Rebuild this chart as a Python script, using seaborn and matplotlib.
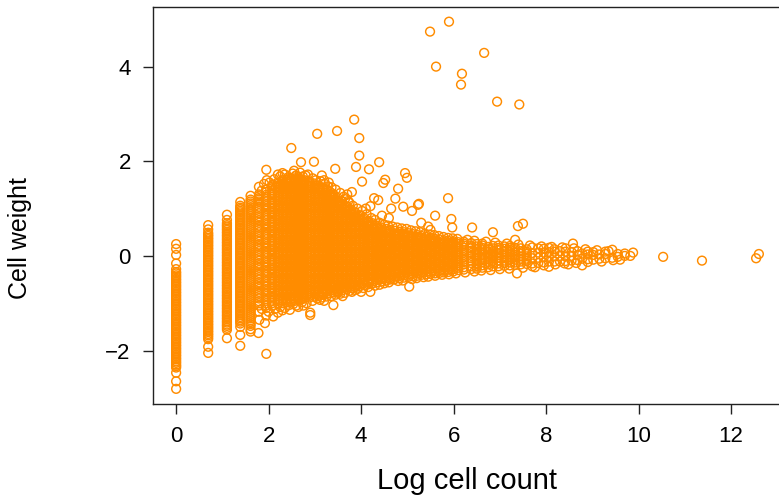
import numpy as np
import pandas as pd
import matplotlib
matplotlib.use("Agg")
import matplotlib.pyplot as plt
import seaborn as sns

# ---------------- data ----------------
# discrete columns at low counts: x = log(count)
col_counts = [1, 2, 3, 4, 5]
w_count1 = [0.25, 0.15, 0.02, -0.16, -0.28, -0.34, -0.41, -0.48, -0.55, -0.62, -0.69, -0.76,
            -0.83, -0.9, -0.97, -1.04, -1.11, -1.18, -1.25, -1.32, -1.39, -1.46, -1.53,
            -1.6, -1.67, -1.74, -1.81, -1.88, -1.95, -2.02, -2.09, -2.16, -2.23, -2.3,
            -2.36, -2.47, -2.65, -2.81,
            -0.37, -0.44, -0.51, -0.58, -0.65, -0.72, -0.79, -0.86, -0.93, -1.0, -1.07,
            -1.14, -1.21, -1.28, -1.35, -1.42, -1.49, -1.56, -1.63, -1.7, -1.77, -1.84,
            -1.91, -1.98, -2.05, -2.12, -2.19, -2.26, -2.33]
w_count2 = [0.65, 0.56, 0.49, 0.42, 0.35, 0.28, 0.21, 0.14, 0.07, 0.0, -0.07, -0.14, -0.21,
            -0.28, -0.35, -0.42, -0.49, -0.56, -0.63, -0.7, -0.77, -0.84, -0.91, -0.98,
            -1.05, -1.12, -1.19, -1.26, -1.33, -1.4, -1.47, -1.54, -1.61, -1.68, -1.76,
            -1.92, -2.05,
            0.45, 0.38, 0.31, 0.24, 0.17, 0.1, 0.03, -0.04, -0.11, -0.18, -0.25, -0.32,
            -0.39, -0.46, -0.53, -0.6, -0.67, -0.74, -0.81, -0.88, -0.95, -1.02, -1.09,
            -1.16, -1.23, -1.3, -1.37, -1.44, -1.51, -1.58, -1.65, -1.72]
w_count3 = [0.87, 0.76, 0.69, 0.62, 0.55, 0.48, 0.41, 0.34, 0.27, 0.2, 0.13, 0.06, -0.01,
            -0.08, -0.15, -0.22, -0.29, -0.36, -0.43, -0.5, -0.57, -0.64, -0.71, -0.78,
            -0.85, -0.92, -0.99, -1.06, -1.13, -1.2, -1.27, -1.34, -1.41, -1.48, -1.56,
            -1.74,
            0.65, 0.58, 0.51, 0.44, 0.37, 0.3, 0.23, 0.16, 0.09, 0.02, -0.05, -0.12, -0.19,
            -0.26, -0.33, -0.4, -0.47, -0.54, -0.61, -0.68, -0.75, -0.82, -0.89, -0.96,
            -1.03, -1.1, -1.17, -1.24, -1.31, -1.38, -1.45, -1.52]
w_count4 = [1.14, 1.06, 0.99, 0.92, 0.85, 0.78, 0.71, 0.64, 0.57, 0.5, 0.43, 0.36, 0.29,
            0.22, 0.15, 0.08, 0.01, -0.06, -0.13, -0.2, -0.27, -0.34, -0.41, -0.48, -0.55,
            -0.62, -0.69, -0.76, -0.83, -0.9, -0.97, -1.04, -1.11, -1.18, -1.25, -1.32,
            -1.39, -1.5, -1.67, -1.9,
            1.02, 0.95, 0.88, 0.81, 0.74, 0.67, 0.6, 0.53, 0.46, 0.39, 0.32, 0.25, 0.18,
            0.11, 0.04, -0.03, -0.1, -0.17, -0.24, -0.31, -0.38, -0.45, -0.52, -0.59,
            -0.66, -0.73, -0.8, -0.87, -0.94, -1.01, -1.08, -1.15, -1.22, -1.29, -1.36,
            -1.43]
w_count5 = [1.27, 1.19, 1.11, 1.03, 0.96, 0.88, 0.8, 0.72, 0.64, 0.56, 0.48, 0.4, 0.32,
            0.24, 0.16, 0.08, 0.0, -0.08, -0.16, -0.24, -0.32, -0.4, -0.48, -0.56, -0.64,
            -0.72, -0.8, -0.88, -0.96, -1.04, -1.12, -1.2, -1.28, -1.36, -1.44, -1.55,
            -1.6,
            1.15, 1.07, 0.99, 0.92, 0.84, 0.76, 0.68, 0.6, 0.52, 0.44, 0.36, 0.28, 0.2,
            0.12, 0.04, -0.04, -0.12, -0.2, -0.28, -0.36, -0.44, -0.52, -0.6, -0.68,
            -0.76, -0.84, -0.92, -1.0, -1.08, -1.16, -1.24, -1.32, -1.4, -1.48]

# dense cloud: log cell count of each column and the weights seen in it
blob_x = [1.792, 1.946, 2.079, 2.197, 2.303, 2.398, 2.485, 2.565, 2.639, 2.708, 2.773,
          2.890, 2.996, 3.091, 3.178, 3.258, 3.332, 3.401, 3.497, 3.584, 3.689, 3.784,
          3.871, 3.970, 4.060, 4.159, 4.248, 4.344, 4.443, 4.543, 4.625, 4.727, 4.828,
          4.927, 5.024, 5.118, 5.215, 5.308, 5.407, 5.501, 5.598, 5.694, 5.790, 5.886,
          5.991]
blob_y = [
    [-1.18, -1.05, -0.96, -0.85, -0.76, -0.65, -0.56, -0.45, -0.36, -0.25, -0.16, -0.05, 0.04, 0.15, 0.24, 0.35, 0.44, 0.55, 0.64, 0.75, 0.84, 0.95, 1.04, 1.15, 1.22, 1.30],
    [-1.26, -1.1, -1.0, -0.91, -0.8, -0.71, -0.6, -0.51, -0.4, -0.31, -0.2, -0.11, 0.0, 0.09, 0.2, 0.29, 0.4, 0.49, 0.6, 0.69, 0.8, 0.89, 1.0, 1.09, 1.2, 1.29, 1.4],
    [-1.05, -0.95, -0.86, -0.75, -0.66, -0.55, -0.46, -0.35, -0.26, -0.15, -0.06, 0.05, 0.14, 0.25, 0.34, 0.45, 0.54, 0.65, 0.74, 0.85, 0.94, 1.05, 1.14, 1.25, 1.34, 1.43, 1.5],
    [-1.0, -0.91, -0.8, -0.71, -0.6, -0.51, -0.4, -0.31, -0.2, -0.11, 0.0, 0.09, 0.2, 0.29, 0.4, 0.49, 0.6, 0.69, 0.8, 0.89, 1.0, 1.09, 1.2, 1.29, 1.4, 1.48, 1.55],
    [-1.0, -0.95, -0.85, -0.76, -0.65, -0.56, -0.45, -0.36, -0.25, -0.16, -0.05, 0.04, 0.15, 0.24, 0.35, 0.44, 0.55, 0.64, 0.75, 0.84, 0.95, 1.04, 1.15, 1.24, 1.35, 1.44, 1.53, 1.6],
    [-0.98, -0.9, -0.8, -0.71, -0.6, -0.51, -0.4, -0.31, -0.2, -0.11, 0.0, 0.09, 0.2, 0.29, 0.4, 0.49, 0.6, 0.69, 0.8, 0.89, 1.0, 1.09, 1.2, 1.29, 1.4, 1.49, 1.57, 1.62],
    [-0.97, -0.85, -0.76, -0.65, -0.56, -0.45, -0.36, -0.25, -0.16, -0.05, 0.04, 0.15, 0.24, 0.35, 0.44, 0.55, 0.64, 0.75, 0.84, 0.95, 1.04, 1.15, 1.24, 1.35, 1.44, 1.55, 1.63],
    [-0.95, -0.9, -0.8, -0.71, -0.6, -0.51, -0.4, -0.31, -0.2, -0.11, 0.0, 0.09, 0.2, 0.29, 0.4, 0.49, 0.6, 0.69, 0.8, 0.89, 1.0, 1.09, 1.2, 1.29, 1.4, 1.49, 1.58, 1.64],
    [-0.93, -0.85, -0.76, -0.65, -0.56, -0.45, -0.36, -0.25, -0.16, -0.05, 0.04, 0.15, 0.24, 0.35, 0.44, 0.55, 0.64, 0.75, 0.84, 0.95, 1.04, 1.15, 1.24, 1.35, 1.44, 1.55, 1.63],
    [-0.92, -0.8, -0.71, -0.6, -0.51, -0.4, -0.31, -0.2, -0.11, 0.0, 0.09, 0.2, 0.29, 0.4, 0.49, 0.6, 0.69, 0.8, 0.89, 1.0, 1.09, 1.2, 1.29, 1.4, 1.49, 1.57, 1.62],
    [-0.9, -0.85, -0.76, -0.65, -0.56, -0.45, -0.36, -0.25, -0.16, -0.05, 0.04, 0.15, 0.24, 0.35, 0.44, 0.55, 0.64, 0.75, 0.84, 0.95, 1.04, 1.15, 1.24, 1.35, 1.44, 1.53, 1.6],
    [-0.88, -0.8, -0.71, -0.6, -0.51, -0.4, -0.31, -0.2, -0.11, 0.0, 0.09, 0.2, 0.29, 0.4, 0.49, 0.6, 0.69, 0.8, 0.89, 1.0, 1.09, 1.2, 1.29, 1.4, 1.49, 1.57],
    [-0.86, -0.76, -0.65, -0.56, -0.45, -0.36, -0.25, -0.16, -0.05, 0.04, 0.15, 0.24, 0.35, 0.44, 0.55, 0.64, 0.75, 0.84, 0.95, 1.04, 1.15, 1.24, 1.35, 1.44, 1.53],
    [-0.84, -0.8, -0.71, -0.6, -0.51, -0.4, -0.31, -0.2, -0.11, 0.0, 0.09, 0.2, 0.29, 0.4, 0.49, 0.6, 0.69, 0.8, 0.89, 1.0, 1.09, 1.2, 1.29, 1.4, 1.48],
    [-0.82, -0.76, -0.65, -0.56, -0.45, -0.36, -0.25, -0.16, -0.05, 0.04, 0.15, 0.24, 0.35, 0.44, 0.55, 0.64, 0.75, 0.84, 0.95, 1.04, 1.15, 1.24, 1.35, 1.44],
    [-0.8, -0.71, -0.6, -0.51, -0.4, -0.31, -0.2, -0.11, 0.0, 0.09, 0.2, 0.29, 0.4, 0.49, 0.6, 0.69, 0.8, 0.89, 1.0, 1.09, 1.2, 1.29, 1.4],
    [-0.79, -0.7, -0.6, -0.5, -0.41, -0.3, -0.21, -0.1, -0.01, 0.1, 0.19, 0.3, 0.39, 0.5, 0.59, 0.7, 0.79, 0.9, 0.99, 1.1, 1.19, 1.28, 1.35],
    [-0.77, -0.66, -0.56, -0.45, -0.36, -0.25, -0.16, -0.05, 0.04, 0.15, 0.24, 0.35, 0.44, 0.55, 0.64, 0.75, 0.84, 0.95, 1.04, 1.15, 1.23, 1.3],
    [-0.75, -0.69, -0.6, -0.51, -0.4, -0.31, -0.2, -0.11, 0.0, 0.09, 0.2, 0.29, 0.4, 0.49, 0.6, 0.69, 0.8, 0.89, 1.0, 1.09, 1.17, 1.22],
    [-0.73, -0.65, -0.56, -0.45, -0.36, -0.25, -0.16, -0.05, 0.04, 0.15, 0.24, 0.35, 0.44, 0.55, 0.64, 0.75, 0.84, 0.95, 1.04, 1.1, 1.15],
    [-0.7, -0.6, -0.51, -0.4, -0.31, -0.2, -0.11, 0.0, 0.09, 0.2, 0.29, 0.4, 0.49, 0.6, 0.69, 0.8, 0.89, 0.98, 1.05],
    [-0.68, -0.6, -0.5, -0.41, -0.3, -0.21, -0.1, -0.01, 0.1, 0.19, 0.3, 0.39, 0.5, 0.59, 0.7, 0.79, 0.88, 0.98],
    [-0.66, -0.56, -0.45, -0.36, -0.25, -0.16, -0.05, 0.04, 0.15, 0.24, 0.35, 0.44, 0.55, 0.64, 0.75, 0.84, 0.92],
    [-0.64, -0.55, -0.46, -0.35, -0.26, -0.15, -0.06, 0.05, 0.14, 0.25, 0.34, 0.45, 0.54, 0.65, 0.74, 0.82, 0.86],
    [-0.62, -0.51, -0.4, -0.31, -0.2, -0.11, 0.0, 0.09, 0.2, 0.29, 0.4, 0.49, 0.6, 0.69, 0.76, 0.8],
    [-0.6, -0.53, -0.43, -0.34, -0.23, -0.14, -0.03, 0.06, 0.17, 0.26, 0.37, 0.46, 0.57, 0.66, 0.74],
    [-0.58, -0.49, -0.38, -0.29, -0.18, -0.09, 0.02, 0.11, 0.22, 0.31, 0.42, 0.51, 0.6, 0.69],
    [-0.56, -0.46, -0.37, -0.26, -0.17, -0.06, 0.03, 0.14, 0.23, 0.34, 0.43, 0.52, 0.6, 0.64],
    [-0.54, -0.45, -0.34, -0.25, -0.14, -0.05, 0.06, 0.15, 0.26, 0.35, 0.44, 0.52, 0.6],
    [-0.52, -0.42, -0.33, -0.22, -0.13, -0.02, 0.07, 0.18, 0.27, 0.38, 0.47, 0.57],
    [-0.5, -0.4, -0.3, -0.21, -0.1, -0.01, 0.1, 0.19, 0.3, 0.39, 0.48, 0.55],
    [-0.49, -0.38, -0.29, -0.18, -0.09, 0.02, 0.11, 0.22, 0.31, 0.42, 0.53],
    [-0.47, -0.37, -0.28, -0.17, -0.08, 0.03, 0.12, 0.23, 0.32, 0.43, 0.51],
    [-0.46, -0.36, -0.26, -0.16, -0.06, 0.04, 0.14, 0.24, 0.34, 0.43, 0.5],
    [-0.44, -0.34, -0.24, -0.14, -0.04, 0.06, 0.16, 0.26, 0.36, 0.43, 0.48],
    [-0.43, -0.33, -0.23, -0.13, -0.03, 0.07, 0.17, 0.27, 0.37, 0.46],
    [-0.42, -0.32, -0.22, -0.12, -0.02, 0.08, 0.18, 0.28, 0.37, 0.44],
    [-0.4, -0.3, -0.2, -0.1, 0.0, 0.1, 0.2, 0.3, 0.38, 0.42],
    [-0.39, -0.29, -0.19, -0.09, 0.01, 0.11, 0.21, 0.31, 0.4],
    [-0.38, -0.28, -0.18, -0.08, 0.02, 0.12, 0.22, 0.31, 0.38],
    [-0.37, -0.27, -0.17, -0.07, 0.03, 0.13, 0.23, 0.3, 0.36],
    [-0.36, -0.26, -0.16, -0.06, 0.04, 0.14, 0.24, 0.35],
    [-0.35, -0.25, -0.15, -0.05, 0.05, 0.15, 0.25, 0.33],
    [-0.34, -0.24, -0.14, -0.04, 0.06, 0.16, 0.25, 0.32],
    [-0.33, -0.23, -0.13, -0.03, 0.07, 0.17, 0.25, 0.31],
]
# further cells in the same columns (the cloud is packed with them)
blob_y2 = [
    [-1.0, -0.9, -0.8, -0.7, -0.6, -0.5, -0.4, -0.3, -0.2, -0.1, 0.0, 0.1, 0.2, 0.3, 0.4, 0.5, 0.6, 0.7, 0.8, 0.9, 1.0, 1.1, 1.19, 1.26],
    [-1.05, -0.95, -0.85, -0.75, -0.65, -0.55, -0.45, -0.35, -0.25, -0.15, -0.05, 0.05, 0.15, 0.25, 0.35, 0.45, 0.55, 0.65, 0.75, 0.85, 0.95, 1.05, 1.15, 1.25, 1.35],
    [-1.0, -0.9, -0.8, -0.7, -0.6, -0.5, -0.4, -0.3, -0.2, -0.1, 0.0, 0.1, 0.2, 0.3, 0.4, 0.5, 0.6, 0.7, 0.8, 0.9, 1.0, 1.1, 1.2, 1.3, 1.39, 1.47],
    [-0.95, -0.85, -0.75, -0.65, -0.55, -0.45, -0.35, -0.25, -0.15, -0.05, 0.05, 0.15, 0.25, 0.35, 0.45, 0.55, 0.65, 0.75, 0.85, 0.95, 1.05, 1.15, 1.25, 1.35, 1.45, 1.52],
    [-0.9, -0.8, -0.7, -0.6, -0.5, -0.4, -0.3, -0.2, -0.1, 0.0, 0.1, 0.2, 0.3, 0.4, 0.5, 0.6, 0.7, 0.8, 0.9, 1.0, 1.1, 1.2, 1.3, 1.4, 1.49, 1.57],
    [-0.94, -0.85, -0.75, -0.65, -0.55, -0.45, -0.35, -0.25, -0.15, -0.05, 0.05, 0.15, 0.25, 0.35, 0.45, 0.55, 0.65, 0.75, 0.85, 0.95, 1.05, 1.15, 1.25, 1.35, 1.45, 1.53, 1.6],
    [-0.91, -0.8, -0.7, -0.6, -0.5, -0.4, -0.3, -0.2, -0.1, 0.0, 0.1, 0.2, 0.3, 0.4, 0.5, 0.6, 0.7, 0.8, 0.9, 1.0, 1.1, 1.2, 1.3, 1.4, 1.5, 1.59],
    [-0.85, -0.75, -0.65, -0.55, -0.45, -0.35, -0.25, -0.15, -0.05, 0.05, 0.15, 0.25, 0.35, 0.45, 0.55, 0.65, 0.75, 0.85, 0.95, 1.05, 1.15, 1.25, 1.35, 1.45, 1.54, 1.61],
    [-0.89, -0.8, -0.7, -0.6, -0.5, -0.4, -0.3, -0.2, -0.1, 0.0, 0.1, 0.2, 0.3, 0.4, 0.5, 0.6, 0.7, 0.8, 0.9, 1.0, 1.1, 1.2, 1.3, 1.4, 1.5, 1.59],
    [-0.86, -0.75, -0.65, -0.55, -0.45, -0.35, -0.25, -0.15, -0.05, 0.05, 0.15, 0.25, 0.35, 0.45, 0.55, 0.65, 0.75, 0.85, 0.95, 1.05, 1.15, 1.25, 1.35, 1.45, 1.53, 1.6],
    [-0.8, -0.7, -0.6, -0.5, -0.4, -0.3, -0.2, -0.1, 0.0, 0.1, 0.2, 0.3, 0.4, 0.5, 0.6, 0.7, 0.8, 0.9, 1.0, 1.1, 1.2, 1.3, 1.4, 1.49, 1.56],
    [-0.84, -0.75, -0.65, -0.55, -0.45, -0.35, -0.25, -0.15, -0.05, 0.05, 0.15, 0.25, 0.35, 0.45, 0.55, 0.65, 0.75, 0.85, 0.95, 1.05, 1.15, 1.25, 1.35, 1.45, 1.53],
    [-0.81, -0.7, -0.6, -0.5, -0.4, -0.3, -0.2, -0.1, 0.0, 0.1, 0.2, 0.3, 0.4, 0.5, 0.6, 0.7, 0.8, 0.9, 1.0, 1.1, 1.2, 1.3, 1.4, 1.49],
    [-0.75, -0.65, -0.55, -0.45, -0.35, -0.25, -0.15, -0.05, 0.05, 0.15, 0.25, 0.35, 0.45, 0.55, 0.65, 0.75, 0.85, 0.95, 1.05, 1.15, 1.25, 1.35, 1.44],
    [-0.8, -0.7, -0.6, -0.5, -0.4, -0.3, -0.2, -0.1, 0.0, 0.1, 0.2, 0.3, 0.4, 0.5, 0.6, 0.7, 0.8, 0.9, 1.0, 1.1, 1.2, 1.3, 1.39],
    [-0.75, -0.65, -0.55, -0.45, -0.35, -0.25, -0.15, -0.05, 0.05, 0.15, 0.25, 0.35, 0.45, 0.55, 0.65, 0.75, 0.85, 0.95, 1.05, 1.15, 1.25, 1.34],
    [-0.74, -0.65, -0.55, -0.45, -0.35, -0.25, -0.15, -0.05, 0.05, 0.15, 0.25, 0.35, 0.45, 0.55, 0.65, 0.75, 0.85, 0.95, 1.05, 1.15, 1.24, 1.31],
    [-0.72, -0.6, -0.5, -0.4, -0.3, -0.2, -0.1, 0.0, 0.1, 0.2, 0.3, 0.4, 0.5, 0.6, 0.7, 0.8, 0.9, 1.0, 1.1, 1.19, 1.27],
    [-0.65, -0.55, -0.45, -0.35, -0.25, -0.15, -0.05, 0.05, 0.15, 0.25, 0.35, 0.45, 0.55, 0.65, 0.75, 0.85, 0.95, 1.05, 1.13],
    [-0.69, -0.6, -0.5, -0.4, -0.3, -0.2, -0.1, 0.0, 0.1, 0.2, 0.3, 0.4, 0.5, 0.6, 0.7, 0.8, 0.9, 1.0, 1.07],
    [-0.65, -0.55, -0.45, -0.35, -0.25, -0.15, -0.05, 0.05, 0.15, 0.25, 0.35, 0.45, 0.55, 0.65, 0.75, 0.85, 0.94, 1.01],
    [-0.64, -0.55, -0.45, -0.35, -0.25, -0.15, -0.05, 0.05, 0.15, 0.25, 0.35, 0.45, 0.55, 0.65, 0.75, 0.84, 0.93],
    [-0.61, -0.5, -0.4, -0.3, -0.2, -0.1, 0.0, 0.1, 0.2, 0.3, 0.4, 0.5, 0.6, 0.7, 0.8, 0.88],
    [-0.6, -0.5, -0.4, -0.3, -0.2, -0.1, 0.0, 0.1, 0.2, 0.3, 0.4, 0.5, 0.6, 0.7, 0.78],
    [-0.57, -0.45, -0.35, -0.25, -0.15, -0.05, 0.05, 0.15, 0.25, 0.35, 0.45, 0.55, 0.65, 0.72],
    [-0.56, -0.48, -0.38, -0.28, -0.18, -0.08, 0.02, 0.12, 0.22, 0.32, 0.42, 0.52, 0.62, 0.7],
    [-0.54, -0.43, -0.33, -0.23, -0.13, -0.03, 0.07, 0.17, 0.27, 0.37, 0.47, 0.56, 0.65],
    [-0.51, -0.41, -0.31, -0.21, -0.11, -0.01, 0.09, 0.19, 0.29, 0.39, 0.48, 0.57],
    [-0.49, -0.39, -0.29, -0.19, -0.09, 0.01, 0.11, 0.21, 0.31, 0.4, 0.49, 0.56],
    [-0.47, -0.37, -0.27, -0.17, -0.07, 0.03, 0.13, 0.23, 0.33, 0.42, 0.52],
    [-0.45, -0.35, -0.25, -0.15, -0.05, 0.05, 0.15, 0.25, 0.35, 0.44, 0.52],
    [-0.44, -0.33, -0.23, -0.13, -0.03, 0.07, 0.17, 0.27, 0.37, 0.47],
    [-0.42, -0.32, -0.22, -0.12, -0.02, 0.08, 0.18, 0.28, 0.38, 0.47],
    [-0.41, -0.31, -0.21, -0.11, -0.01, 0.09, 0.19, 0.29, 0.39, 0.46],
    [-0.39, -0.29, -0.19, -0.09, 0.01, 0.11, 0.21, 0.31, 0.4],
    [-0.38, -0.28, -0.18, -0.08, 0.02, 0.12, 0.22, 0.32, 0.41],
    [-0.37, -0.27, -0.17, -0.07, 0.03, 0.13, 0.23, 0.33, 0.4],
    [-0.35, -0.25, -0.15, -0.05, 0.05, 0.15, 0.25, 0.34],
    [-0.34, -0.24, -0.14, -0.04, 0.06, 0.16, 0.26, 0.35],
    [-0.33, -0.23, -0.13, -0.03, 0.07, 0.17, 0.27, 0.35],
    [-0.32, -0.22, -0.12, -0.02, 0.08, 0.18, 0.27, 0.33],
    [-0.31, -0.21, -0.11, -0.01, 0.09, 0.19, 0.29],
    [-0.3, -0.2, -0.1, 0.0, 0.1, 0.2, 0.29],
    [-0.29, -0.19, -0.09, 0.01, 0.11, 0.21, 0.28],
    [-0.28, -0.18, -0.08, 0.02, 0.12, 0.21, 0.28],
]

# thinning tail at high counts
tail_x = [6.10, 6.22, 6.38, 6.50, 6.62, 6.75, 6.85, 6.97, 7.10, 7.22, 7.33, 7.45, 7.58,
          7.70, 7.83, 7.95, 8.06, 8.18, 8.30, 8.42, 8.55, 8.68, 8.78, 8.90, 9.02, 9.15,
          9.28, 9.43, 9.55, 9.70, 9.82]
tail_y = [
    [-0.3, -0.2, -0.1, 0.0, 0.1, 0.2, 0.29],
    [-0.29, -0.18, -0.08, 0.02, 0.12, 0.22, 0.3],
    [-0.28, -0.15, -0.05, 0.06, 0.16, 0.27],
    [-0.27, -0.17, -0.06, 0.04, 0.14, 0.25],
    [-0.25, -0.14, -0.04, 0.07, 0.17, 0.26],
    [-0.24, -0.13, -0.02, 0.08, 0.19],
    [-0.22, -0.11, 0.0, 0.1, 0.21],
    [-0.22, -0.1, 0.01, 0.12, 0.22],
    [-0.21, -0.1, 0.0, 0.1, 0.2],
    [-0.2, -0.08, 0.03, 0.13, 0.21],
    [-0.19, -0.08, 0.02, 0.12],
    [-0.18, -0.06, 0.05, 0.16],
    [-0.17, -0.06, 0.04, 0.14],
    [-0.16, -0.05, 0.06, 0.18],
    [-0.15, -0.04, 0.07, 0.16],
    [-0.14, -0.03, 0.07, 0.15],
    [-0.12, -0.02, 0.08, 0.17],
    [-0.12, -0.01, 0.09, 0.14],
    [-0.12, 0.0, 0.1],
    [-0.11, -0.01, 0.09, 0.16],
    [-0.1, 0.0, 0.08],
    [-0.09, 0.02, 0.1],
    [-0.06, 0.05],
    [-0.07, 0.03, 0.09],
    [-0.08, 0.02, 0.08],
    [-0.06, 0.03],
    [-0.05, 0.04, 0.09],
    [-0.04],
    [-0.02, 0.04],
    [0.0, 0.05],
    [0.0],
]
tail_y2 = [
    [-0.25, -0.15, -0.05, 0.05, 0.15, 0.25],
    [-0.24, -0.13, -0.03, 0.07, 0.17, 0.26],
    [-0.22, -0.1, 0.0, 0.11, 0.21],
    [-0.22, -0.11, -0.01, 0.09, 0.2],
    [-0.2, -0.09, 0.02, 0.12, 0.22],
    [-0.18, -0.07, 0.03, 0.14],
    [-0.16, -0.05, 0.05, 0.16],
    [-0.16, -0.04, 0.06, 0.17],
    [-0.15, -0.05, 0.05, 0.15],
    [-0.14, -0.03, 0.08, 0.17],
    [-0.14, -0.03, 0.07, 0.17],
    [-0.12, -0.01, 0.1],
    [-0.11, -0.01, 0.09],
]

# ragged rim of the cloud (upper and lower edge cells)
rim_x = [1.85, 1.90, 2.02, 2.12, 2.15, 2.25, 2.35, 2.42, 2.52, 2.58, 2.68, 2.74, 2.80,
         2.95, 3.02, 3.12, 3.22, 3.28, 3.36, 3.45, 3.55, 3.65, 3.72, 3.82, 3.92, 4.02,
         4.12, 4.22, 4.30, 4.40, 4.50, 4.58, 4.68, 4.78, 4.88, 4.98, 5.08, 5.18, 5.28,
         5.38, 5.48, 5.58, 5.68, 5.78, 5.88, 5.98, 6.08, 6.30, 6.45, 6.70, 6.90, 7.15,
         7.40, 7.65, 7.90, 8.12, 8.35, 8.60, 8.85, 9.10, 9.35,
         1.85, 2.00, 2.14, 2.25, 2.35, 2.44, 2.53, 2.60, 2.72, 2.82, 2.95, 3.05, 3.15,
         3.25, 3.35, 3.45, 3.55, 3.65, 3.75, 3.92, 4.05, 4.15, 4.30, 4.40, 4.50, 4.60,
         4.80, 4.90, 5.10, 5.20, 5.35, 5.45, 5.60, 5.75, 5.90, 6.05, 6.25, 6.45, 6.60,
         6.80, 7.00, 7.20, 7.50, 7.70, 7.95, 8.20, 8.40, 8.65, 8.90, 9.20, 9.45]
rim_y = [1.38, 1.52, 1.55, 1.62, 1.45, 1.68, 1.72, 1.66, 1.74, 1.69, 1.76, 1.68, 1.70,
         1.64, 1.60, 1.58, 1.52, 1.47, 1.45, 1.40, 1.33, 1.20, 1.16, 1.06, 1.00, 0.95,
         0.88, 0.80, 0.76, 0.70, 0.66, 0.64, 0.62, 0.60, 0.58, 0.57, 0.54, 0.52, 0.50,
         0.47, 0.45, 0.44, 0.42, 0.40, 0.38, 0.37, 0.36, 0.34, 0.32, 0.30, 0.28, 0.26,
         0.24, 0.22, 0.20, 0.19, 0.18, 0.16, 0.14, 0.12, 0.10,
         -1.12, -1.18, -1.12, -1.08, -1.10, -1.04, -1.02, -1.05, -0.98, -1.00, -0.95, -0.90, -0.88,
         -0.86, -0.85, -0.82, -0.80, -0.78, -0.74, -0.70, -0.68, -0.66, -0.63, -0.61, -0.58, -0.56,
         -0.53, -0.52, -0.49, -0.47, -0.45, -0.44, -0.42, -0.40, -0.39, -0.37, -0.35, -0.33, -0.31,
         -0.30, -0.28, -0.27, -0.25, -0.22, -0.20, -0.18, -0.16, -0.15, -0.13, -0.12, -0.09]

# isolated points
outlier_x = [5.49, 5.90, 6.66, 5.62, 6.18, 6.16, 6.94, 7.42,
             2.49, 3.05, 3.48, 3.85, 3.96, 3.96, 2.70, 2.98, 3.89, 4.17, 4.39, 1.95,
             3.44, 4.02, 1.79, 1.96, 4.52, 4.48, 4.95, 4.99, 4.80, 4.74, 5.88, 4.28,
             4.37, 4.91, 5.10, 5.23, 5.25, 5.60, 5.95, 6.40, 5.97, 5.45, 6.85, 7.39,
             7.50, 7.33, 8.58, 9.43, 9.88, 3.62, 3.75, 3.80, 4.10, 4.20, 3.70, 4.45,
             4.60, 4.65, 5.30, 5.50, 2.30, 2.55, 2.60, 2.85, 3.20, 3.30, 3.15, 2.20,
             1.95, 1.78, 3.40, 2.90, 2.90, 2.64, 2.46, 2.10, 1.92, 1.80, 3.11, 3.50,
             3.87, 4.20, 5.04, 4.70, 4.00, 3.80, 7.37, 8.06, 8.78, 8.48, 7.76, 9.60,
             10.53, 11.37, 12.54, 12.60, 2.30, 2.75, 3.20, 3.60, 2.20]
outlier_y = [4.74, 4.95, 4.29, 4.00, 3.85, 3.62, 3.26, 3.20,
             2.28, 2.58, 2.64, 2.88, 2.49, 2.12, 1.98, 1.99, 1.88, 1.83, 1.98, 1.82,
             1.84, 1.57, 1.46, 1.60, 1.61, 1.54, 1.75, 1.65, 1.42, 1.21, 1.22, 1.22,
             1.18, 1.04, 0.95, 1.08, 1.10, 0.85, 0.78, 0.60, 0.60, 0.62, 0.50, 0.63,
             0.68, 0.34, 0.26, 0.13, 0.07, 1.25, 1.12, 1.35, 1.00, 1.05, 1.30, 0.85,
             0.80, 1.00, 0.70, 0.55, 1.75, 1.80, 1.70, 1.72, 1.60, 1.55, 1.70, 1.72,
             -2.07, -1.63, -1.04, -1.20, -1.25, -1.08, -1.14, -1.28, -1.42, -1.35, -0.93, -0.78,
             -0.72, -0.76, -0.65, -0.50, -0.76, -0.76, -0.37, -0.23, -0.20, -0.18, -0.24, -0.08,
             -0.02, -0.10, -0.05, 0.04, -1.15, -1.05, -0.95, -0.85, -1.20]

# ---------------- assemble ----------------
xs, ys = [], []
for cnt, col in zip(col_counts, [w_count1, w_count2, w_count3, w_count4, w_count5]):
    xs += [np.log(cnt)] * len(col)
    ys += col
for group in (blob_y, blob_y2):
    for x, col in zip(blob_x, group):
        xs += [x] * len(col)
        ys += col
for group in (tail_y, tail_y2):
    for x, col in zip(tail_x, group):
        xs += [x] * len(col)
        ys += col
xs += rim_x + outlier_x
ys += rim_y + outlier_y
df = pd.DataFrame({"Log cell count": xs, "Cell weight": ys})

# ---------------- plot ----------------
sns.set_style("ticks")
plt.rcParams["font.family"] = ["Liberation Sans", "DejaVu Sans"]
plt.rcParams["text.color"] = "black"
plt.rcParams["axes.labelcolor"] = "black"
plt.rcParams["xtick.color"] = "black"
plt.rcParams["ytick.color"] = "black"

fig = plt.figure(figsize=(7.79, 4.98), dpi=100)
ax = fig.add_axes([153 / 779, 94 / 498, 629 / 779, 397 / 498])

sns.scatterplot(data=df, x="Log cell count", y="Cell weight", ax=ax,
                marker="o", s=40, linewidth=1.05, legend=False)
coll = ax.collections[0]
coll.set_facecolor("none")
coll.set_edgecolor("#FF8C00")
coll.set_linewidth(1.05)

ax.set_xlim(-0.5, 13.1)
ax.set_ylim(-3.13, 5.26)
ax.set_xticks([0, 2, 4, 6, 8, 10, 12])
ax.set_yticks([-2, 0, 2, 4])

for side in ["left", "bottom", "top"]:
    ax.spines[side].set_visible(True)
    ax.spines[side].set_color("#222222")
    ax.spines[side].set_linewidth(1.0)
ax.spines["right"].set_visible(False)

ax.tick_params(axis="both", which="major", direction="out", length=7, width=1.0,
               color="#222222", labelcolor="black", labelsize=16, pad=9)

ax.set_xlabel("Log cell count", fontsize=21, color="black")
ax.set_ylabel("Cell weight", fontsize=18, color="black")
ax.xaxis.set_label_coords(0.5, -0.158)
ax.yaxis.set_label_coords(-0.192, 0.418)

fig.savefig("out.png", dpi=100)
